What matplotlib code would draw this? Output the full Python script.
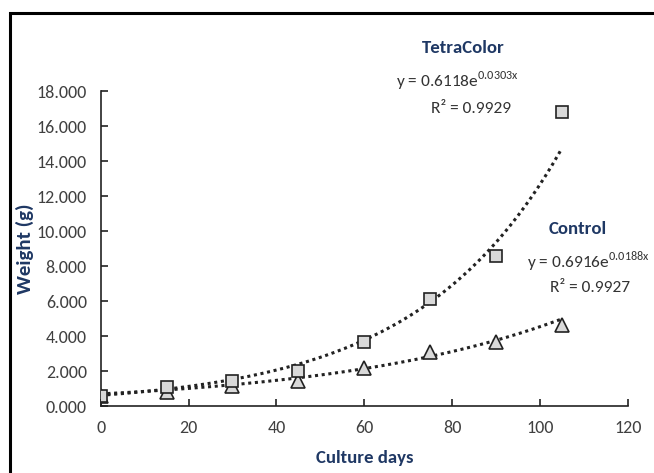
import numpy as np
import matplotlib
matplotlib.use("Agg")
import matplotlib.pyplot as plt
from matplotlib.patches import Rectangle

days = [0, 15, 30, 45, 60, 75, 90, 105]
tetra = [0.60, 1.10, 1.45, 2.00, 3.65, 6.10, 8.55, 16.80]
control = [0.60, 0.80, 1.15, 1.45, 2.20, 3.10, 3.65, 4.65]
tetra_fit = (0.6118, 0.0303)
control_fit = (0.6916, 0.0188)
xticks = [0, 20, 40, 60, 80, 100, 120]
yticks = [0, 2, 4, 6, 8, 10, 12, 14, 16, 18]

fam = ['Carlito', 'DejaVu Sans']

fig = plt.figure(figsize=(6.54, 4.73), dpi=100)
ax = fig.add_axes([0.154, 0.1416, 0.806, 0.666])

navy = '#1f3864'
xs = np.linspace(0, 105, 200)
ax.plot(xs, tetra_fit[0] * np.exp(tetra_fit[1] * xs), color='#222222', ls=(0, (1, 1.2)), lw=2.2, zorder=2)
ax.plot(xs, control_fit[0] * np.exp(control_fit[1] * xs), color='#222222', ls=(0, (1, 1.2)), lw=2.2, zorder=2)
ax.plot(days, control, ls='none', marker='^', ms=10, mfc='#d9d9d9', mec='#222222', mew=1.2, zorder=3)
ax.plot(days, tetra, ls='none', marker='s', ms=9, mfc='#d9d9d9', mec='#222222', mew=1.2, zorder=4)

ax.set_xlim(0, 120)
ax.set_ylim(0, 18)
ax.set_xticks(xticks)
ax.set_yticks(yticks)
ax.set_yticklabels([f"{v:.3f}" for v in yticks])
for s in ['top', 'right']:
    ax.spines[s].set_visible(False)
for s in ['left', 'bottom']:
    ax.spines[s].set_linewidth(1.2)
    ax.spines[s].set_color('#222222')
ax.tick_params(direction='in', length=5, width=1.2, color='#222222', labelsize=13, labelcolor='#404040')
ax.tick_params(axis='x', pad=10)
ax.tick_params(axis='y', pad=10)
for lab in ax.get_xticklabels() + ax.get_yticklabels():
    lab.set_family(fam)

ax.set_xlabel('Culture days', family=fam, fontsize=13.5, fontweight='bold', color=navy, labelpad=10)
ax.set_ylabel('Weight (g)', family=fam, fontsize=15, fontweight='bold', color=navy, labelpad=2)

fig.text(463/654, 1 - 48/473, 'TetraColor', family=fam, fontsize=13.5, fontweight='bold', color=navy, ha='center', va='center')
fig.text(457/654, 1 - 81/473, r'y = 0.6118e$^{\mathregular{0.0303x}}$', family=fam, fontsize=12.5, color='#333333', ha='center', va='center')
fig.text(471/654, 1 - 109/473, 'R² = 0.9929', family=fam, fontsize=12.5, color='#333333', ha='center', va='center')
fig.text(578/654, 1 - 229/473, 'Control', family=fam, fontsize=13.5, fontweight='bold', color=navy, ha='center', va='center')
fig.text(588/654, 1 - 262/473, r'y = 0.6916e$^{\mathregular{0.0188x}}$', family=fam, fontsize=12.5, color='#333333', ha='center', va='center')
fig.text(590/654, 1 - 288/473, 'R² = 0.9927', family=fam, fontsize=12.5, color='#333333', ha='center', va='center')

fig.patches.append(Rectangle((9.5/654, -0.05), 1.1, 1 - 13.5/473 + 0.05, transform=fig.transFigure,
                             fill=False, ec='black', lw=2.2))

fig.savefig('out.png', dpi=100)
